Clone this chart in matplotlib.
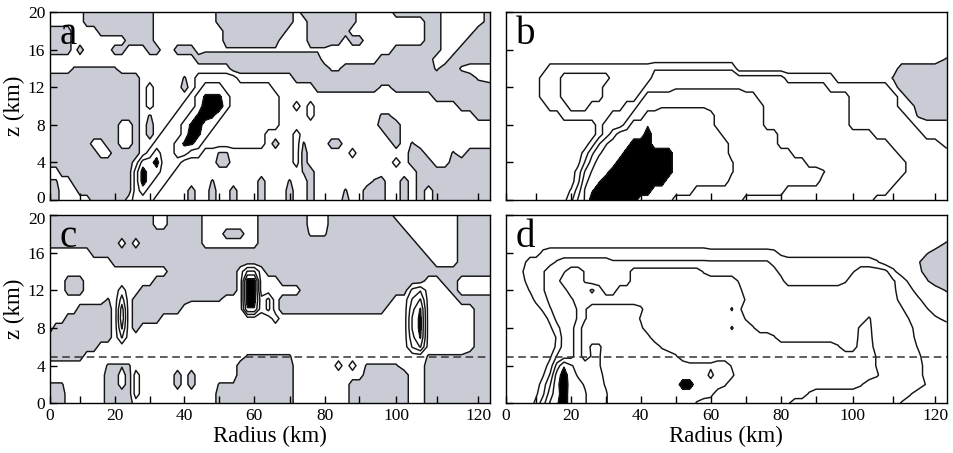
import numpy as np
import matplotlib
matplotlib.use("Agg")
import matplotlib.pyplot as plt
import matplotlib.transforms as mtransforms

plt.rcParams['font.family'] = ['Liberation Serif', 'DejaVu Serif']

# grid of the fields: radius every 2 km, height every 1 km
radius = np.arange(0, 123, 2)
height = np.arange(0, 21, 1)

# the radius axis is stretched: km of each tick and its distance (px) from the left edge
km_ticks = [0, 10, 20, 30, 40, 50, 60, 70, 80, 90, 100, 110, 120, 122]
px_ticks = [0, 30, 65, 100, 134.7, 169.7, 204.7, 240, 275, 310, 346.7, 387.3, 429, 440.7]

# field levels, one row per km of height (top row = 20 km)
# "v*n" = n cells of value v; below 0.5 is shaded grey
rows_a = [
    "1*6 0*10 1*9 0*11 1 0*8 1*5 0*6 1*5 0",
    "1*6 0*10 1*9 0*11 1*2 0*7 1*9 0*2 1*5 0",
    "0*4 1*4 0*8 1*10 0*9 1*3 0*6 1*10 0*2 1*4 0*2",
    "0*4 1*8 0*4 1*10 0*8 1*4 0*5 1 0*2 1*8 0*2 1*3 0*3",
    "0*4 1 0 1*4 0*2 1*3 0*2 1*2 0*3 1 0.65*18 1*9 0*6 1*2 0*4",
    "1*22 0*18 1*8 0*7 1*2 0*5",
    "1*4 0.4*7 1*16 0*14 0.65*2 0*12 0.65 0*2 0.65 1*3",
    "0*14 1*6 0.4 1 2*6 1*8 0*24 0.65 1",
    "0*14 1 2 1*4 0 1 2 3*3 2*7 1*6 0*9 0.65*2 0*12",
    "0*14 1 2 1*5 2 3 3.65*3 3 2*7 1*21 0*7",
    "0*14 1 2 1*4 2*2 3 4*3 3 2*7 1*2 2 1 2 1*19 0*4",
    "0*14 1 0.4 1*3 2*2 3 3.65 4 3.65 3 2*8 1*4 2 1*9 0.4*2 1*10 0*2",
    "0*11 1*2 0 1 0 1*2 2*2 3 3.65 4 3*2 2*9 1*14 0*3 1*11",
    "0*11 1*2 0 1 0 1 2*3 3 4 3.65 3 2*8 1*4 2 1*12 0*2 1*11",
    "0*7 1*2 0*2 1*2 0 1*2 2*3 3 3.65*2 3 2*9 1 0 1*2 2 0.4 1*3 0*2 1*7 0 1 0.4 1*9",
    "0*8 1*2 0*4 1 2 3 2*2 3*2 2*2 1*2 0.4*2 1*9 2 0 1*6 2 1*7 0*2 1*3 0.4 1 0*3",
    "0*13 1 3*2 4 2*3 1*5 0*2 1*9 2 0 1*12 2 1 0*3 1*2 0*5",
    "1*2 0*11 2 4 3*2 2*2 1*18 0.4 0 1*14 0*9",
    "0.4*2 1*2 0*9 2 4 3 2*2 1*6 0.4 1*6 0 1*3 0.4 1*2 0 1*8 0.4 0 1*2 0 1 0*9",
    "0*2 1*3 0*8 2 3 2*2 1*4 0 1*2 0 1*2 0 1*3 0 1*3 0 1*2 0 1*4 0.4 1*2 0*3 1*2 0 1 0 1 0*7",
    "0*2 1*5 0*5 1 2*3 1*5 0 1*2 0 1*2 0 1*3 0 1*3 0 1*2 0 1*4 0 1*2 0*3 1*2 0 1 0 1 0*7",
]

rows_b = [
    "1*62",
    "1*62",
    "1*62",
    "1*62",
    "1*62",
    "1*61 0.4",
    "1*7 2*15 2.4*12 1*22 0*6",
    "1*6 2*3 3*7 2*6 3*19 2*7 1*7 0.4 0*6",
    "1*6 2*3 3*6 2*6 3*4 3.4*10 3*12 2*8 1 0*6",
    "1*6 2*3 3*6 2*5 3 4*16 3*13 2*6 1 0*5",
    "1*7 2*3 3*3 2*5 3*2 4*3 4.4*7 4*8 3*12 2*6 1*2 0*4",
    "1*9 2*7 3*3 4*2 5*10 4*7 3*12 2*7 1 0.4 0*3",
    "1*14 2 3*3 4 5*2 5.4 5*9 4*7 3*12 2*8 1*4",
    "1*14 2 3 4 5*4 6 5*10 4*8 3*13 2*6 1*3",
    "1*13 2 3.4 4.4 5*3 6*3 5*11 4*7 3*15 2*6 1",
    "1*12 1.9 3.3 4.3 5*3 6*7 5*8 4*9 3*14 2*6",
    "1*11 1.2 2.6 4 5*3 6*8 5*8 4.6 4*10 3*13 2*5",
    "1*11 1.9 3.6 4.6 5 5.2 6*9 5*8 4.6 4*12 3.6 3*10 2*5",
    "1*11 2.2 4.2 5 5.4 6*9 5*9 4*13 3*10 2*6",
    "1*10 1.6 3 4.6 5.4 6*8 5*6 4*13 3*14 2*7",
    "1*9 1.2 2.2 3.6 4.6 6*7 5*5 4*10 3*18 2*9",
]

rows_c = [
    "0*16 1*2 0*5 1*8 0*7 1*3 0*9 1*8 0*4",
    "0*16 1*2 0*5 1*8 0*7 1*3 0*10 1*7 0*4",
    "0*23 1*3 0*3 1*2 0*7 0.65*3 0*11 1*6 0*4",
    "0*11 1 0 1 0*9 1*8 0*22 1*5 0*4",
    "1*7 0*47 1*4 0*4",
    "1*10 0*45 1*3 0*4",
    "1*18 0*10 1 2.6*2 1 0*30",
    "1*3 0*3 1*10 0*12 1 5*2 1*3 0*20 1*2 0*2 1*4",
    "1*3 0*3 1*5 2 1*2 0*14 1 5*2 1*6 0*15 1.8 2.4 1*3 0 1*4",
    "1*9 0.4 1 3 1 0*8 0.4*5 1*3 5*2 1.8 2.8 1 0*16 1*2 2.6 3.6 1*4 0*4",
    "1*5 0*5 1 4 1 0*7 1*9 4.4*2 1.8 2.8 1 0*15 1*3 3.2 4.6 1*6 0*2",
    "1*3 0*7 1 4.2 1 0*4 1*16 2 1*18 3.6 4.8 1*6 0*2",
    "1 0*9 1 3.6 1 0 1*38 3.6 4.8 1*6 0*2",
    "0*10 1 2.6 1*40 3.2 4.6 1*6 0*2",
    "0*8 1*44 2.6 3.6 1*6 0*2",
    "0*6 1*23 0.4*7 1*18 0.4*5 0*3",
    "1*9 0.4*4 1*15 0*8 1*6 2 1 2 1 0.4*5 1*3 0*8",
    "1*9 0*2 1 0 2 1*5 0 1 0 1*6 0*8 1*10 0*6 1*2 0*8",
    "0.4*3 1*6 0*2 1 0 2 1*5 0 1 0 1*3 0.4*3 0*8 1*8 0*8 1*2 0*8",
    "0*3 1*6 0*4 2 1*11 0*11 1*8 0*8 1*2 0*8",
    "0*3 1*6 0*4 1*12 0*11 1*8 0*8 1*2 0*8",
]

rows_d = [
    "1*62",
    "1*62",
    "1*62",
    "1*61 0.4",
    "1*6 1.7 2*23 1.8*9 1.7 1.3 1*18 0.6 0.2 0",
    "1*3 1.3 2*3 2.2 2.6 2.9*7 2.6*23 2.2 2*13 1.6 1*4 0.6 0*3",
    "1*3 1.6 2 2 2.4 3 3 3.4 4 4 3.4 3*6 4*10 3.4 3*9 2.8 2.2 2*9 2.4 3*3 2.8 1.7 1 1 0.7 0.2 0*2",
    "1*3 1.4 2 2 2.4 3 3.2 4*3 3.4 3*6 4*15 3.4 3*5 2.8 2*8 2.4 3*5 2.6 2 1.2 1 0.6 0*2",
    "1*4 1.6 2 2.4 3 3 3.2 4*3 4.7 4 3 3 4*17 3.8 3*20 2.7 2 1.8 1*3 0.4",
    "1*5 1.8 2 2.8 3 3 3.3 4*24 3.4 3*19 2.8 2.2 2 1.7 1*3",
    "1*6 1.7 2.4 3 3 3.1 3.6 4.4 5*7 4.7 4*12 4.6 3.7 3*21 2.6 2*2 1.6 1*2",
    "1*7 1.8 2.8 3 3.1 3.6 4.4 5*7 4.4 4*14 3.4 3*16 3.6 3*4 2.4 2*2 1.7 1.2",
    "1*7 1.3 2.2 3 3.2 4 5*8 4.7 4*12 4.6 4*2 3.6 3*14 3.7 3.7 3*4 2.7 2.1 2*3",
    "1*8 1.6 3 3.2 4 5*9 4.8 4*17 3.6 3*11 3.8 3.8 3*4 2.8 2.2 2*3",
    "1*8 1.7 3 3.2 4 5 4.3 4.3 5*8 4.4 4*24 3.6 3*2 4*2 3*5 2.4 2*3",
    "1*7 1.3 2.6 3 3.2 4 5 4.4 4.4 5*10 4.6 4*27 3.4 3*4 2.7 2*3",
    "1*7 1.9 3.9 5.4 4.6 4.2 4 4 4.4 5*12 4.7*4 5*2 4.4 4*19 3.4 3*4 2.8 2.2 2*2",
    "1*6 1.4 2.6 5 6 4.9 4.4 4.2 4 4.2 4.8 5*14 4.2 5*2 4.7 4*19 3.6 3*4 2.8 2.2 2*2",
    "1*6 2 3.4 5.3 6 5.1 4.8 4.4 4 4.2 4.6 5*10 6 6 5*4 4.6 4*18 3.6 3*7 2.4 2*2",
    "1*5 1.3 2.3 4 5.2 6 5 5 4.6 4 4 4.4 5*14 4.8 4*13 3.4 3*12 2.6 2*4",
    "1*5 1.8 3.1 4.6 5.4 6 5 5 4.6 4 4 4.4 5*12 4.4 4*12 3.6 3*14 2.4 2*5",
]

# contour lines drawn and the level above which the field is filled black
line_levels = {'a': [0.5, 1.5, 2.5, 3.5], 'b': [0.5, 1.5, 2.5, 3.5, 4.5, 5.5],
               'c': [0.5, 1.5, 2.5, 3.5, 4.5], 'd': [0.5, 1.5, 2.5, 3.5, 4.5, 5.5]}
black_level = {'a': 3.5, 'b': 5.5, 'c': 4.5, 'd': 5.5}
dashed_z = 4.9


def expand(rows):
    grid = []
    for r in rows:
        vals = []
        for tok in r.split():
            if '*' in tok:
                v, n = tok.split('*')
                vals += [float(v)] * int(n)
            else:
                vals.append(float(tok))
        if len(vals) != len(radius):
            raise ValueError("row has %d cells: %s" % (len(vals), r))
        grid.append(vals)
    return np.array(grid[::-1])


def fwd(x):
    return np.interp(x, km_ticks, px_ticks)


def inv(p):
    return np.interp(p, px_ticks, km_ticks)


GRAY = '#c9ccd5'
fig = plt.figure(figsize=(9.54, 4.53), dpi=100)
boxes = {'a': [0.0524, 0.5585, 0.4612, 0.4143], 'b': [0.5304, 0.5585, 0.4620, 0.4143],
         'c': [0.0524, 0.1097, 0.4612, 0.4157], 'd': [0.5304, 0.1097, 0.4620, 0.4157]}
fields = {'a': rows_a, 'b': rows_b, 'c': rows_c, 'd': rows_d}

for name in 'abcd':
    ax = fig.add_axes(boxes[name])
    F = expand(fields[name])
    ax.contourf(radius, height, F, levels=[-10, 0.5], colors=[GRAY])
    ax.contourf(radius, height, F, levels=[black_level[name], 99], colors=['k'])
    ax.contour(radius, height, F, levels=line_levels[name], colors='#151515', linewidths=1.05)
    if name in 'cd':
        ax.axhline(dashed_z, color='#333333', lw=1.1, ls=(0, (5, 3)))
    ax.set_xscale('function', functions=(fwd, inv))
    ax.set_xlim(0, 122)
    ax.set_ylim(0, 20)
    ax.set_xticks(range(0, 121, 20))
    ax.set_xticks(range(10, 120, 20), minor=True)
    ax.set_yticks(range(0, 21, 4))
    ax.tick_params(which='both', direction='in', length=5, width=1, labelsize=12.5)
    for s in ax.spines.values():
        s.set_linewidth(1.0)
    if name in 'ab':
        ax.set_xticklabels([])
    else:
        ax.set_xlabel('Radius (km)', fontsize=16.5, labelpad=1)
    if name in 'bd':
        ax.set_yticklabels([])
    else:
        ax.set_ylabel('z (km)', fontsize=16.5, labelpad=2)
        # keep the "0" of the upper panel and the "20" of the lower one apart
        labels = ax.get_yticklabels()
        if name == 'a':
            shift = mtransforms.ScaledTranslation(0, 0.03, fig.dpi_scale_trans)
            labels[0].set_transform(labels[0].get_transform() + shift)
        else:
            shift = mtransforms.ScaledTranslation(0, -0.03, fig.dpi_scale_trans)
            labels[-1].set_transform(labels[-1].get_transform() + shift)
    ax.text(0.022, 0.83, name, transform=ax.transAxes, fontsize=28)

fig.savefig('out.png', dpi=100)
